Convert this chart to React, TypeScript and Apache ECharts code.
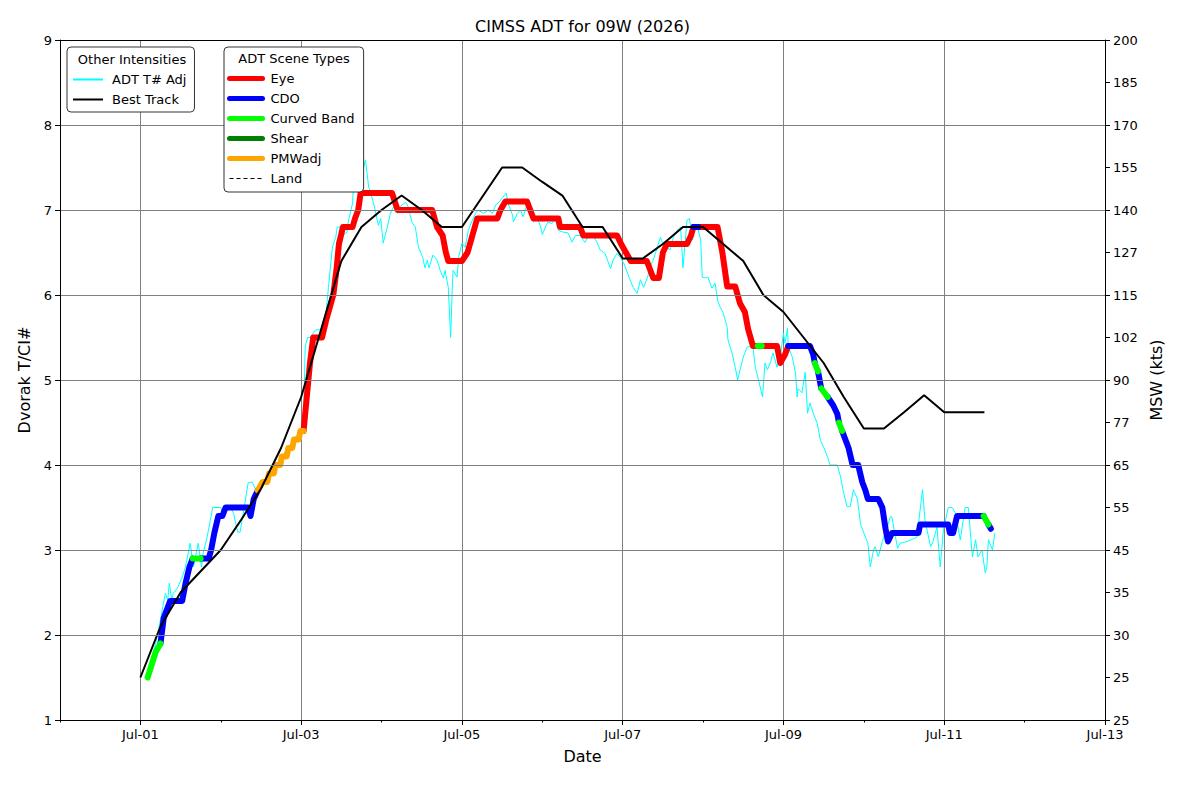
import React, { useEffect, useRef } from "react";
import * as echarts from "echarts";

// ---- tick labels ----
const dateTickLabels = ["Jul-01", "Jul-03", "Jul-05", "Jul-07", "Jul-09", "Jul-11", "Jul-13"];
const mswTickLabels = ["25", "25", "30", "35", "45", "55", "65", "77", "90", "102", "115", "127", "140", "155", "170", "185", "200"];

// ---- days since Jul-01 00Z ----
const adtDays = [
  0.1, 0.15, 0.19, 0.25, 0.31, 0.34, 0.36, 0.39, 0.41, 0.46, 0.52, 0.56, 0.62, 0.66, 0.72, 0.76, 0.78, 0.83, 0.87, 0.9,
  1.0, 1.03, 1.12, 1.16, 1.21, 1.24, 1.28, 1.34, 1.39, 1.44, 1.5, 1.55, 1.6, 1.65, 1.7, 1.75, 1.8, 1.85, 1.9, 1.95,
  2.0, 2.03, 2.05, 2.08, 2.11, 2.18, 2.24, 2.3, 2.34, 2.36, 2.39, 2.43, 2.45, 2.51, 2.52, 2.57, 2.59, 2.64, 2.65, 2.7,
  2.71, 2.76, 2.8, 2.84, 2.89, 2.92, 2.96, 2.99, 3.02, 3.07, 3.11, 3.15, 3.2, 3.23, 3.3, 3.33, 3.38, 3.42, 3.46, 3.51,
  3.54, 3.57, 3.59, 3.64, 3.69, 3.73, 3.77, 3.79, 3.83, 3.86, 3.88, 3.89, 3.94, 3.96, 4.0, 4.04, 4.08, 4.13, 4.17, 4.2,
  4.27, 4.33, 4.38, 4.42, 4.45, 4.51, 4.55, 4.58, 4.63, 4.64, 4.69, 4.73, 4.76, 4.81, 4.85, 4.89, 4.94, 4.98, 5.0, 5.04,
  5.07, 5.12, 5.16, 5.2, 5.26, 5.32, 5.37, 5.41, 5.47, 5.53, 5.6, 5.63, 5.68, 5.72, 5.78, 5.85, 5.88, 5.93, 5.97, 6.01,
  6.06, 6.09, 6.13, 6.18, 6.22, 6.26, 6.31, 6.34, 6.38, 6.43, 6.47, 6.5, 6.55, 6.59, 6.63, 6.68, 6.72, 6.75, 6.8, 6.83,
  6.87, 6.88, 6.93, 6.97, 6.99, 7.03, 7.06, 7.11, 7.15, 7.18, 7.21, 7.25, 7.3, 7.31, 7.36, 7.4, 7.43, 7.46, 7.5, 7.55,
  7.59, 7.62, 7.65, 7.69, 7.74, 7.77, 7.8, 7.84, 7.87, 7.92, 7.96, 8.0, 8.02, 8.05, 8.06, 8.11, 8.15, 8.17, 8.18, 8.23,
  8.27, 8.3, 8.33, 8.37, 8.42, 8.46, 8.5, 8.55, 8.58, 8.67, 8.71, 8.74, 8.79, 8.83, 8.87, 8.92, 8.96, 9.0, 9.05, 9.08,
  9.12, 9.14, 9.18, 9.23, 9.29, 9.33, 9.35, 9.37, 9.42, 9.45, 9.54, 9.66, 9.73, 9.76, 9.83, 9.86, 9.91, 9.95, 9.99, 10.05,
  10.1, 10.14, 10.2, 10.26, 10.3, 10.35, 10.39, 10.42, 10.47, 10.51, 10.53, 10.55, 10.6, 10.63,
];
const adtValues = [
  1.55, 1.75, 1.9, 2.18, 2.49, 2.41, 2.61, 2.41, 2.49, 2.55, 2.68, 2.8, 3.08, 2.8, 3.08, 2.8, 2.96, 3.15, 3.35, 3.5,
  3.5, 3.43, 3.5, 3.43, 3.21, 3.21, 3.43, 3.79, 3.8, 3.7, 3.75, 3.8, 3.85, 3.95, 4.0, 4.05, 4.15, 4.2, 4.3, 4.35,
  4.4, 4.45, 5.39, 5.5, 5.5, 5.59, 5.59, 5.7, 6.09, 6.29, 6.57, 6.68, 6.8, 6.8, 6.7, 6.74, 6.88, 7.08, 7.29, 7.29,
  7.2, 7.43, 7.59, 7.27, 7.12, 7.0, 6.82, 6.9, 6.61, 6.79, 6.96, 7.04, 6.96, 7.04, 7.09, 7.04, 6.85, 6.8, 6.56, 6.45,
  6.32, 6.41, 6.32, 6.47, 6.41, 6.29, 6.2, 6.29, 6.09, 5.5, 6.09, 6.29, 6.21, 6.45, 6.61, 6.56, 6.76, 6.88, 6.96, 7.0,
  6.96, 7.0, 6.96, 7.06, 7.08, 7.15, 7.2, 7.06, 6.94, 6.86, 6.96, 7.0, 6.92, 7.06, 7.02, 6.86, 6.9, 6.8, 6.71, 6.8,
  6.86, 6.84, 6.9, 6.76, 6.74, 6.73, 6.62, 6.7, 6.7, 6.62, 6.73, 6.7, 6.62, 6.53, 6.49, 6.31, 6.41, 6.49, 6.44, 6.38,
  6.26, 6.18, 6.09, 6.02, 6.18, 6.09, 6.21, 6.33, 6.41, 6.56, 6.68, 6.6, 6.56, 6.53, 6.68, 6.76, 6.8, 6.32, 6.88, 6.9,
  6.65, 6.75, 6.8, 6.65, 6.21, 6.2, 6.21, 6.08, 6.14, 5.94, 5.86, 5.79, 5.62, 5.47, 5.32, 5.15, 5.0, 5.12, 5.27, 5.39,
  5.39, 5.39, 5.15, 5.0, 4.8, 5.2, 5.12, 5.21, 5.32, 5.15, 5.27, 5.55, 5.43, 5.61, 5.39, 5.27, 5.08, 4.8, 4.9, 4.85,
  5.09, 4.61, 4.73, 4.61, 4.49, 4.29, 4.21, 4.09, 4.0, 4.0, 3.86, 3.71, 3.51, 3.51, 3.71, 3.6, 3.3, 3.2, 3.08, 2.8,
  3.0, 3.04, 2.92, 3.1, 3.27, 3.39, 3.39, 3.27, 3.02, 3.08, 3.1, 3.15, 3.71, 3.35, 3.04, 3.1, 3.27, 2.8, 3.24, 3.5,
  3.5, 3.43, 3.12, 3.5, 3.5, 2.92, 3.12, 2.92, 3.0, 2.73, 2.8, 3.12, 3.0, 3.2,
];

const bestTrackDays = [
  0, 0.25, 0.5, 0.75, 1.0, 1.25, 1.5, 1.75, 2.0, 2.25, 2.5, 2.75, 3.0, 3.25, 3.5, 3.75, 4.0, 4.25, 4.5, 4.75, 5.0,
  5.25, 5.5, 5.75, 6.0, 6.25, 6.5, 6.75, 7.0, 7.25, 7.5, 7.75, 8.0, 8.25, 8.5, 8.75, 9.0, 9.25, 9.5, 9.75, 10.0, 10.25, 10.5,
];
const bestTrackValues = [
  1.5, 2.1, 2.5, 2.75, 3.0, 3.35, 3.72, 4.2, 4.8, 5.6, 6.4, 6.8, 7.0, 7.17, 7.0, 6.8, 6.8, 7.15, 7.5, 7.5, 7.33,
  7.17, 6.8, 6.8, 6.43, 6.43, 6.6, 6.8, 6.8, 6.6, 6.4, 6.0, 5.8, 5.5, 5.2, 4.8, 4.43, 4.43, 4.62, 4.82, 4.62, 4.62, 4.62,
];

// Final CI# with scene type (EYE, CDO, CB = curved band, SH = shear, PMW = PMW adj, LAND)
const ciDays = [
  0.09, 0.14, 0.19, 0.25, 0.29, 0.33, 0.37, 0.52, 0.56, 0.61, 0.65, 0.75, 0.85, 0.88, 0.92, 0.97, 1.02, 1.06, 1.34, 1.37,
  1.41, 1.46, 1.52, 1.58, 1.6, 1.66, 1.68, 1.74, 1.76, 1.82, 1.84, 1.89, 1.91, 1.97, 1.99, 2.03, 2.07, 2.11, 2.15, 2.26,
  2.31, 2.4, 2.44, 2.47, 2.52, 2.64, 2.67, 2.71, 2.74, 3.13, 3.2, 3.63, 3.69, 3.76, 3.8, 3.83, 4.0, 4.07, 4.13, 4.19,
  4.44, 4.48, 4.54, 4.81, 4.89, 5.2, 5.22, 5.47, 5.51, 5.93, 5.98, 6.04, 6.1, 6.3, 6.34, 6.38, 6.45, 6.5, 6.55, 6.8,
  6.85, 6.88, 6.94, 7.18, 7.24, 7.3, 7.4, 7.46, 7.52, 7.56, 7.62, 7.68, 7.73, 7.92, 7.96, 8.02, 8.06, 8.33, 8.37, 8.39,
  8.43, 8.47, 8.55, 8.62, 8.67, 8.69, 8.73, 8.81, 8.86, 8.93, 8.98, 9.02, 9.05, 9.18, 9.23, 9.27, 9.3, 9.35, 9.68, 9.7,
  10.05, 10.07, 10.11, 10.16, 10.49, 10.55, 10.58,
];
const ciValues = [
  1.5, 1.65, 1.8, 1.9, 2.2, 2.3, 2.4, 2.4, 2.6, 2.8, 2.9, 2.9, 2.9, 3.0, 3.2, 3.4, 3.4, 3.5, 3.5, 3.4,
  3.6, 3.7, 3.8, 3.8, 3.9, 3.9, 4.0, 4.0, 4.1, 4.1, 4.2, 4.2, 4.3, 4.3, 4.4, 4.4, 4.8, 5.2, 5.5, 5.5,
  5.7, 6.0, 6.3, 6.6, 6.8, 6.8, 6.9, 7.0, 7.2, 7.2, 7.0, 7.0, 6.8, 6.7, 6.5, 6.4, 6.4, 6.5, 6.7, 6.9,
  6.9, 7.0, 7.1, 7.1, 6.9, 6.9, 6.8, 6.8, 6.7, 6.7, 6.6, 6.5, 6.4, 6.4, 6.3, 6.2, 6.2, 6.5, 6.6, 6.6,
  6.7, 6.8, 6.8, 6.8, 6.5, 6.1, 6.1, 5.9, 5.8, 5.6, 5.4, 5.4, 5.4, 5.4, 5.2, 5.3, 5.4, 5.4, 5.3, 5.2,
  5.1, 4.9, 4.8, 4.7, 4.6, 4.5, 4.4, 4.2, 4.0, 4.0, 3.8, 3.7, 3.6, 3.6, 3.5, 3.25, 3.1, 3.2, 3.2, 3.3,
  3.3, 3.2, 3.2, 3.4, 3.4, 3.3, 3.25,
];
const ciScenes = [
  "CB", "CB", "CB", "CDO", "CDO", "CDO", "CDO", "CDO", "CDO", "CDO", "CB", "CDO", "CDO", "CDO", "CDO", "CDO", "CDO", "CDO", "CDO", "CDO",
  "CDO", "PMW", "PMW", "PMW", "PMW", "PMW", "PMW", "PMW", "PMW", "PMW", "PMW", "PMW", "PMW", "PMW", "PMW", "EYE", "EYE", "EYE", "EYE", "EYE",
  "EYE", "EYE", "EYE", "EYE", "EYE", "EYE", "EYE", "EYE", "EYE", "EYE", "EYE", "EYE", "EYE", "EYE", "EYE", "EYE", "EYE", "EYE", "EYE", "EYE",
  "EYE", "EYE", "EYE", "EYE", "EYE", "EYE", "EYE", "EYE", "EYE", "EYE", "EYE", "EYE", "EYE", "EYE", "EYE", "EYE", "EYE", "EYE", "EYE", "EYE",
  "EYE", "CDO", "EYE", "EYE", "EYE", "EYE", "EYE", "EYE", "EYE", "EYE", "EYE", "CB", "EYE", "EYE", "EYE", "EYE", "CDO", "CDO", "CDO", "CB",
  "CDO", "CB", "CDO", "CDO", "CDO", "CB", "CDO", "CDO", "CDO", "CDO", "CDO", "CDO", "CDO", "CDO", "CDO", "CDO", "CDO", "CDO", "CDO", "CDO",
  "CDO", "CDO", "CDO", "CDO", "CB", "CDO", "CDO",
];

const sceneTypes = [
  { code: "EYE", name: "Eye", color: "#ff0000" },
  { code: "CDO", name: "CDO", color: "#0000ff" },
  { code: "CB", name: "Curved Band", color: "#00ff00" },
  { code: "SH", name: "Shear", color: "#008000" },
  { code: "PMW", name: "PMWadj", color: "#ffa500" },
];

function sceneData(code: string) {
  const out: any[] = [];
  let open = false;
  for (let j = 0; j < ciDays.length - 1; j++) {
    if (ciScenes[j] === code) {
      if (!open) {
        out.push([ciDays[j], ciValues[j]]);
        open = true;
      }
      out.push([ciDays[j + 1], ciValues[j + 1]]);
    } else if (open) {
      out.push([ciDays[j], null]);
      open = false;
    }
  }
  return out;
}

const FONT = "DejaVu Sans";
const GRID_LEFT = 60;
const GRID_RIGHT = 95;
const GRID_WIDTH = 1200 - GRID_LEFT - GRID_RIGHT;
const DAY_SPAN = 13;

function buildOption() {
  const sceneSeries = sceneTypes.map((s) => ({
    type: "line",
    name: s.name,
    xAxisIndex: 0,
    yAxisIndex: 0,
    data: sceneData(s.code),
    symbol: "none",
    connectNulls: false,
    z: 3,
    itemStyle: { color: s.color },
    lineStyle: { color: s.color, width: 6, join: "round", cap: "round" },
  }));

  const legendCommon = {
    orient: "vertical",
    top: 47,
    itemGap: 7,
    itemHeight: 14,
    selectedMode: false,
    backgroundColor: "#fff",
    borderColor: "#333",
    borderWidth: 1,
    borderRadius: 4,
    itemStyle: { opacity: 0 },
    z: 10,
  };

  return {
    animation: false,
    textStyle: { fontFamily: FONT, color: "#000" },
    grid: [
      { left: GRID_LEFT, right: GRID_RIGHT, top: 40, bottom: 80 },
      { left: GRID_LEFT + GRID_WIDTH / DAY_SPAN, right: GRID_RIGHT, top: 40, bottom: 80 },
    ],
    xAxis: [
      {
        gridIndex: 0,
        type: "value",
        min: -1,
        max: 12,
        interval: 1,
        axisLine: { show: true, onZero: false, lineStyle: { color: "#000", width: 1 } },
        axisTick: { show: true, length: 2.5, lineStyle: { color: "#000" } },
        axisLabel: { show: false },
        splitLine: { show: false },
        name: "Date",
        nameLocation: "middle",
        nameGap: 28,
        nameTextStyle: { fontSize: 16, fontFamily: FONT, color: "#000" },
        z: 5,
      },
      {
        gridIndex: 1,
        type: "value",
        min: 0,
        max: 12,
        interval: 2,
        axisLine: { show: false, onZero: false },
        axisTick: { show: true, length: 5, lineStyle: { color: "#000" } },
        axisLabel: {
          fontSize: 13,
          fontFamily: FONT,
          color: "#000",
          margin: 8,
          formatter: (v: number) => dateTickLabels[Math.round(v / 2)] ?? "",
        },
        splitLine: { show: true, lineStyle: { color: "#808080", width: 1 } },
      },
      {
        gridIndex: 0,
        type: "value",
        position: "top",
        min: -1,
        max: 12,
        axisLine: { show: true, onZero: false, lineStyle: { color: "#000", width: 1 } },
        axisTick: { show: false },
        axisLabel: { show: false },
        splitLine: { show: false },
        z: 5,
      },
    ],
    yAxis: [
      {
        gridIndex: 0,
        type: "value",
        position: "left",
        min: 1,
        max: 9,
        interval: 1,
        axisLine: { show: true, onZero: false, lineStyle: { color: "#000", width: 1 } },
        axisTick: { show: true, length: 5, lineStyle: { color: "#000" } },
        axisLabel: { fontSize: 13, fontFamily: FONT, color: "#000", margin: 8 },
        splitLine: { show: true, lineStyle: { color: "#808080", width: 1 } },
        name: "Dvorak T/CI#",
        nameLocation: "middle",
        nameRotate: 90,
        nameGap: 27,
        nameTextStyle: { fontSize: 16, fontFamily: FONT, color: "#000" },
        z: 5,
      },
      {
        gridIndex: 0,
        type: "value",
        position: "right",
        min: 1,
        max: 9,
        interval: 0.5,
        axisLine: { show: true, onZero: false, lineStyle: { color: "#000", width: 1 } },
        axisTick: { show: true, length: 5, lineStyle: { color: "#000" } },
        axisLabel: {
          fontSize: 13,
          fontFamily: FONT,
          color: "#000",
          margin: 8,
          formatter: (v: number) => mswTickLabels[Math.round((v - 1) * 2)] ?? "",
        },
        splitLine: { show: false },
        name: "MSW (kts)",
        nameLocation: "middle",
        nameRotate: 90,
        nameGap: 37,
        nameTextStyle: { fontSize: 16, fontFamily: FONT, color: "#000" },
        z: 5,
      },
      {
        gridIndex: 1,
        type: "value",
        position: "right",
        min: 1,
        max: 9,
        interval: 1,
        show: false,
        axisLine: { show: false, onZero: false },
        axisTick: { show: false },
        axisLabel: { show: false },
        splitLine: { show: false },
      },
    ],
    legend: [
      {
        ...legendCommon,
        data: ["ADT T# Adj", "Best Track"],
        left: 67,
        padding: [26, 8, 6, 5],
        itemWidth: 30,
        textStyle: { fontSize: 13, fontFamily: FONT, color: "#000", padding: [0, 0, 0, 4] },
      },
      {
        ...legendCommon,
        data: [
          { name: "Eye", lineStyle: { width: 5 } },
          { name: "CDO", lineStyle: { width: 5 } },
          { name: "Curved Band", lineStyle: { width: 5 } },
          { name: "Shear", lineStyle: { width: 5 } },
          { name: "PMWadj", lineStyle: { width: 5 } },
          { name: "Land", lineStyle: { width: 1, type: [4, 3] } },
        ],
        left: 224,
        padding: [25, 9, 7, 3],
        itemWidth: 33,
        textStyle: { fontSize: 13, fontFamily: FONT, color: "#000", padding: [0, 0, 0, 3] },
      },
    ],
    graphic: [
      {
        type: "text",
        x: 582.5,
        y: 26,
        z: 100,
        style: { text: "CIMSS ADT for 09W (2026)", fontSize: 16, fontFamily: FONT, fill: "#000", textAlign: "center", textVerticalAlign: "middle" },
      },
      {
        type: "text",
        x: 132,
        y: 59,
        z: 100,
        style: { text: "Other Intensities", fontSize: 13, fontFamily: FONT, fill: "#000", textAlign: "center", textVerticalAlign: "middle" },
      },
      {
        type: "text",
        x: 294,
        y: 58,
        z: 100,
        style: { text: "ADT Scene Types", fontSize: 13, fontFamily: FONT, fill: "#000", textAlign: "center", textVerticalAlign: "middle" },
      },
    ],
    series: [
      {
        type: "line",
        name: "ADT T# Adj",
        xAxisIndex: 0,
        yAxisIndex: 0,
        data: adtDays.map((d, i) => [d, adtValues[i]]),
        symbol: "none",
        z: 2,
        itemStyle: { color: "#00ffff" },
        lineStyle: { color: "#00ffff", width: 1 },
      },
      ...sceneSeries,
      {
        type: "line",
        name: "Land",
        xAxisIndex: 0,
        yAxisIndex: 0,
        data: sceneData("LAND"),
        symbol: "none",
        z: 3,
        itemStyle: { color: "#000" },
        lineStyle: { color: "#000", width: 1, type: "dashed" },
      },
      {
        type: "line",
        name: "Best Track",
        xAxisIndex: 0,
        yAxisIndex: 0,
        data: bestTrackDays.map((d, i) => [d, bestTrackValues[i]]),
        symbol: "none",
        z: 4,
        itemStyle: { color: "#000" },
        lineStyle: { color: "#000", width: 2 },
      },
    ],
  };
}

export default function App() {
  const ref = useRef<HTMLDivElement>(null);
  useEffect(() => {
    document.body.style.margin = "0";
    if (!ref.current) return;
    const chart = echarts.init(ref.current, null, { renderer: "svg" });
    chart.setOption(buildOption() as any);
    return () => chart.dispose();
  }, []);
  return <div ref={ref} style={{ width: 1200, height: 800, background: "#fff" }} />;
}
